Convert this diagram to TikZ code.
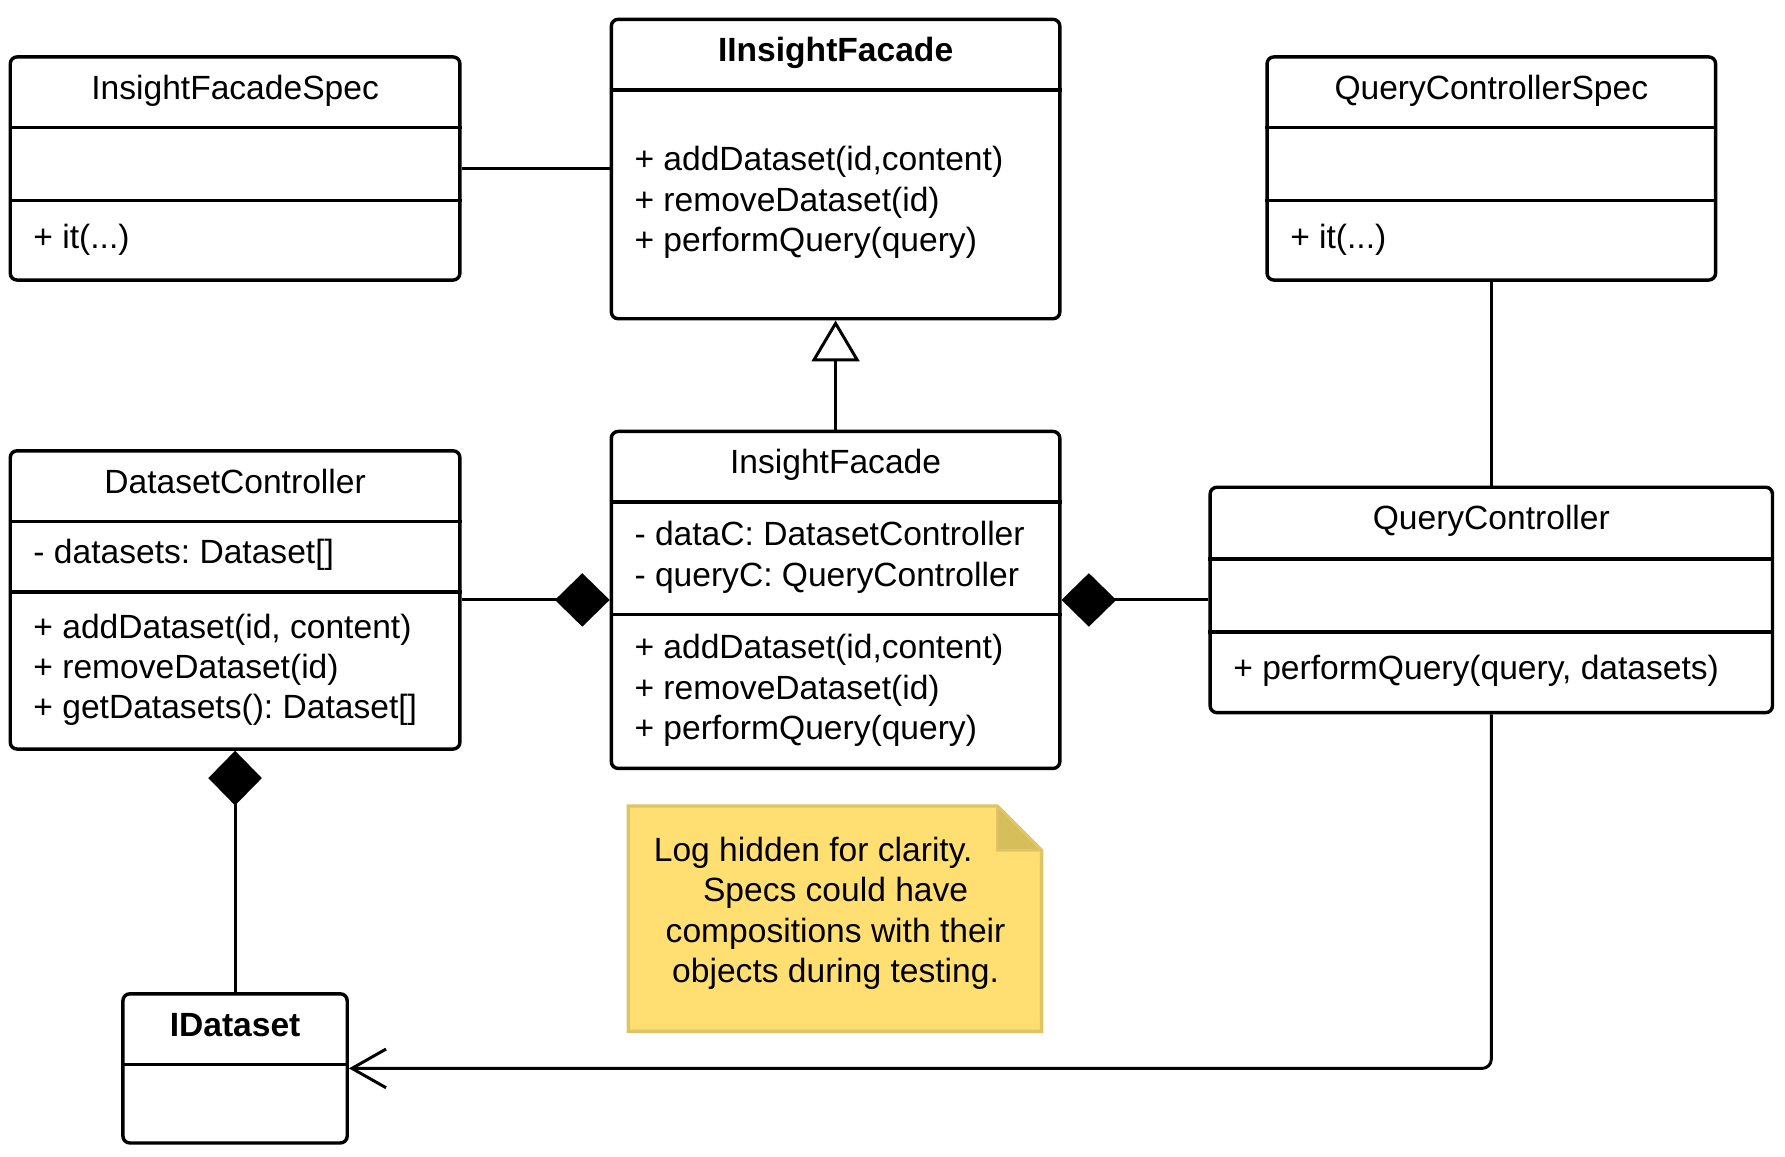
\documentclass[tikz,border=0pt]{standalone}
\usepackage{fontspec}
\setmainfont{Liberation Sans}
\frenchspacing
\usetikzlibrary{fit,arrows.meta}
\definecolor{notefill}{RGB}{255,223,113}
\definecolor{noteline}{RGB}{222,196,100}
\definecolor{notefold}{RGB}{214,190,90}
\begin{document}
\begin{tikzpicture}[x=0.5pt,y=-0.5pt,
  classbox/.style={draw, line width=1.5pt, rounded corners=3pt, inner sep=0pt},
  divline/.style={line width=1.5pt},
  conn/.style={line width=1.3pt},
  txt/.style={inner sep=0pt, yshift=-1.5pt, text height=0.716em, text depth=0pt, font=\fontsize{14.75pt}{17.7pt}\selectfont},
  ttl/.style={txt, anchor=center},
  btl/.style={txt, anchor=center, font=\fontsize{14.75pt}{17.7pt}\selectfont\bfseries},
  mem/.style={txt, anchor=west},
  comp/.style={-{Diamond[length=24pt,width=23.5pt]}},
  gen/.style={-{Triangle[length=18pt,width=21pt,fill=white]}},
  dep/.style={-{Straight Barb[length=15pt,width=17pt]}}
]
\fill[white] (0,0) rectangle (1568,1016);
\useasboundingbox (0,0) rectangle (1568,1016);

% InsightFacadeSpec
\node[classbox, fit={(9,50) (404,246)}] (ifs) {};
\draw[divline] (ifs.west |- 0,112) -- (ifs.east |- 0,112);
\draw[divline] (ifs.west |- 0,176) -- (ifs.east |- 0,176);
\node[ttl] (ifst) at (206.5,77) {InsightFacadeSpec};
\node[mem] (ifsm) at (29,208) {+ it(...)};

% IInsightFacade
\node[classbox, fit={(537,17) (931,280)}] (iif) {};
\draw[divline] (iif.west |- 0,79) -- (iif.east |- 0,79);
\node[btl] (iift) at (734,44) {IInsightFacade};
\node[mem] (iifm1) at (557,140) {+ addDataset(id,content)};
\node[mem] (iifm2) at (557,176) {+ removeDataset(id)};
\node[mem] (iifm3) at (557,211) {+ performQuery(query)};

% QueryControllerSpec
\node[classbox, fit={(1113,50) (1507,246)}] (qcs) {};
\draw[divline] (qcs.west |- 0,112) -- (qcs.east |- 0,112);
\draw[divline] (qcs.west |- 0,176) -- (qcs.east |- 0,176);
\node[ttl] (qcst) at (1310,77) {QueryControllerSpec};
\node[mem] (qcsm) at (1133,208) {+ it(...)};

% DatasetController
\node[classbox, fit={(9,396) (404,658)}] (dc) {};
\draw[divline] (dc.west |- 0,458) -- (dc.east |- 0,458);
\draw[divline] (dc.west |- 0,520) -- (dc.east |- 0,520);
\node[ttl] (dct) at (206.5,423) {DatasetController};
\node[mem] (dca) at (29,485) {- datasets: Dataset[]};
\node[mem] (dcm1) at (29,551) {+ addDataset(id, content)};
\node[mem] (dcm2) at (29,586) {+ removeDataset(id)};
\node[mem] (dcm3) at (29,621) {+ getDatasets(): Dataset[]};

% InsightFacade
\node[classbox, fit={(537,379) (931,675)}] (ifc) {};
\draw[divline] (ifc.west |- 0,441) -- (ifc.east |- 0,441);
\draw[divline] (ifc.west |- 0,540) -- (ifc.east |- 0,540);
\node[ttl] (ifct) at (734,406) {InsightFacade};
\node[mem] (ifca1) at (557,469) {- dataC: DatasetController};
\node[mem] (ifca2) at (557,505) {- queryC: QueryController};
\node[mem] (ifcm1) at (557,568) {+ addDataset(id,content)};
\node[mem] (ifcm2) at (557,604) {+ removeDataset(id)};
\node[mem] (ifcm3) at (557,639) {+ performQuery(query)};

% QueryController
\node[classbox, fit={(1063,428) (1557,626)}] (qc) {};
\draw[divline] (qc.west |- 0,491) -- (qc.east |- 0,491);
\draw[divline] (qc.west |- 0,555) -- (qc.east |- 0,555);
\node[ttl] (qct) at (1310,455) {QueryController};
\node[mem] (qcm) at (1083,587) {+ performQuery(query, datasets)};

% IDataset
\node[classbox, fit={(108,873) (305,1004)}] (ids) {};
\draw[divline] (ids.west |- 0,935) -- (ids.east |- 0,935);
\node[btl] (idst) at (206.5,900) {IDataset};

% Note
\filldraw[fill=notefill, draw=noteline, line width=1.5pt]
  (552,708) -- (876,708) -- (915,747) -- (915,906) -- (552,906) -- cycle;
\filldraw[fill=notefold, draw=noteline, line width=1pt, line join=round]
  (876,708) -- (876,747) -- (915,747) -- cycle;
\node[mem] (note1) at (574,747) {Log hidden for clarity.};
\node[ttl] (note2) at (734,782) {Specs could have};
\node[ttl] (note3) at (734,818) {compositions with their};
\node[ttl] (note4) at (734,853) {objects during testing.};

% Connectors
\draw[conn] (ifs.east) -- (ifs.east -| iif.west);
\draw[conn, gen] (ifc.north) -- (iif.south);
\draw[conn, comp] (dc.east) -- (dc.east -| ifc.west);
\draw[conn, comp] (qc.west) -- (qc.west -| ifc.east);
\draw[conn] (qcs.south) -- (qc.north);
\draw[conn, comp] (ids.north) -- (dc.south);
\draw[conn, dep, rounded corners=4pt] (qc.south) |- (ids.east);
\end{tikzpicture}
\end{document}
